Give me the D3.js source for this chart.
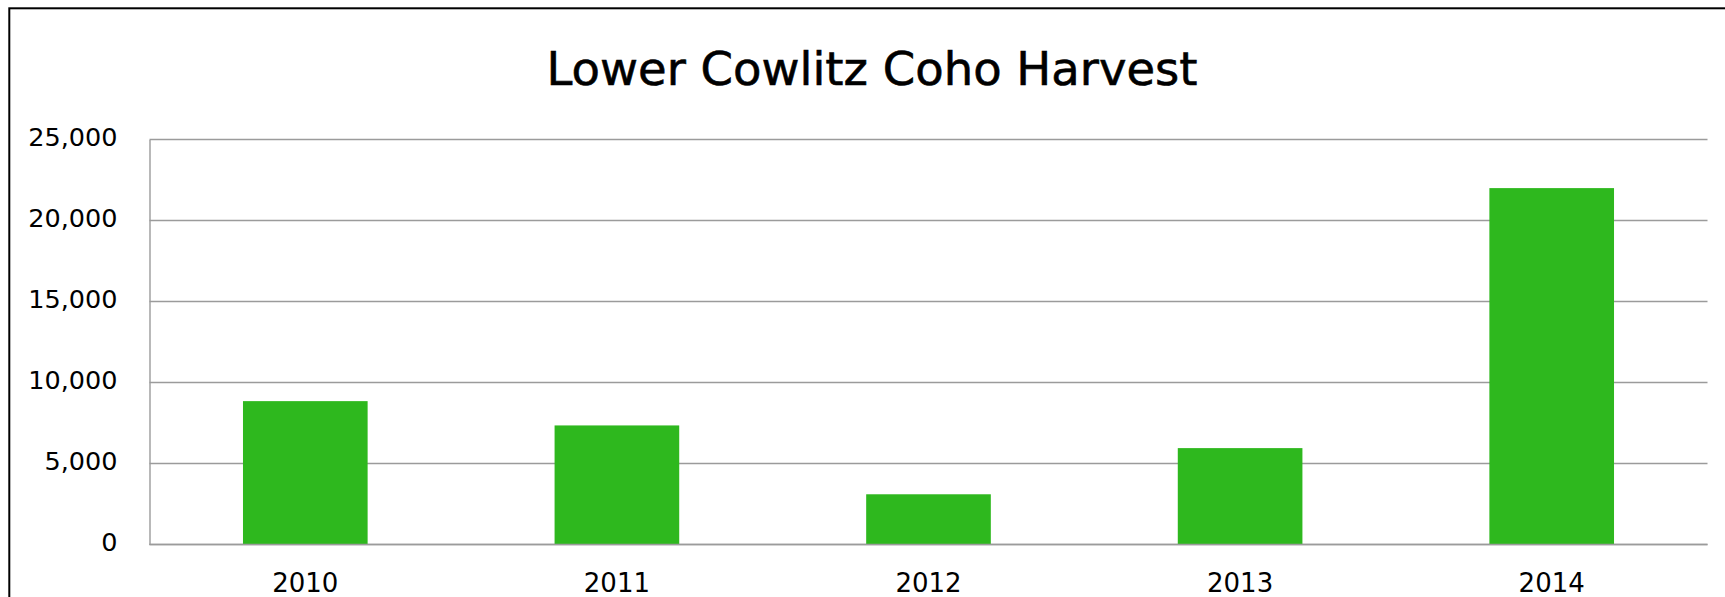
<!DOCTYPE html>
<html>
<head>
<meta charset="utf-8">
<script src="https://cdn.jsdelivr.net/npm/d3@7"></script>
<style>
  html, body { margin: 0; padding: 0; background: #fff; overflow: hidden; }
  svg { display: block; font-family: "DejaVu Sans", sans-serif; }
</style>
</head>
<body>
<svg id="chart" width="1725" height="597"></svg>
<script>
// Harvest counts by year
const years = ["2010", "2011", "2012", "2013", "2014"];
const harvest = [8850, 7350, 3100, 5950, 22000];
const yTicks = [0, 5000, 10000, 15000, 20000, 25000];
const title = "Lower Cowlitz Coho Harvest";

const svg = d3.select("#chart");
const margin = { left: 149.5, right: 17.5, top: 139.5, bottom: 52.5 };
const width = 1725, height = 597;

// outer frame (runs past the right and bottom edges)
svg.append("rect")
  .attr("x", 9.3).attr("y", 8.3)
  .attr("width", 1800).attr("height", 800)
  .attr("fill", "none").attr("stroke", "#000").attr("stroke-width", 2);

const x = d3.scaleBand()
  .domain(years)
  .range([margin.left, width - margin.right])
  .paddingInner(0.6)
  .paddingOuter(0.3);

const y = d3.scaleLinear()
  .domain([0, 25000])
  .range([height - margin.bottom, margin.top]);

// horizontal gridlines
svg.append("g")
  .selectAll("line")
  .data(yTicks)
  .join("line")
  .attr("x1", margin.left).attr("x2", width - margin.right)
  .attr("y1", d => y(d)).attr("y2", d => y(d))
  .attr("stroke", "#9b9b9b").attr("stroke-width", 1.4);

// left axis with tick labels
const yAxis = svg.append("g")
  .attr("transform", `translate(${margin.left},0)`)
  .call(d3.axisLeft(y).tickValues(yTicks).tickSize(0).tickPadding(32)
    .tickFormat(d3.format(",")));
yAxis.select(".domain").attr("stroke", "#9b9b9b").attr("stroke-width", 1.4);
yAxis.selectAll("text")
  .attr("font-family", "DejaVu Sans, sans-serif")
  .attr("font-size", 25.5)
  .attr("fill", "#000")
  .attr("dy", "0.22em");

// bars
svg.append("g")
  .selectAll("rect")
  .data(years.map((yr, i) => ({ yr, v: harvest[i] })))
  .join("rect")
  .attr("x", d => x(d.yr))
  .attr("width", x.bandwidth())
  .attr("y", d => y(d.v))
  .attr("height", d => y(0) - y(d.v))
  .attr("fill", "#2eb81e");

// baseline drawn over the bars
svg.append("line")
  .attr("x1", margin.left).attr("x2", width - margin.right)
  .attr("y1", y(0)).attr("y2", y(0))
  .attr("stroke", "#9b9b9b").attr("stroke-width", 1.4);

// bottom axis labels
const xAxis = svg.append("g")
  .attr("transform", `translate(0,${y(0)})`)
  .call(d3.axisBottom(x).tickSize(0).tickPadding(29));
xAxis.select(".domain").remove();
xAxis.selectAll("text")
  .attr("font-family", "DejaVu Sans, sans-serif")
  .attr("font-size", 26)
  .attr("fill", "#000");

// title
svg.append("text")
  .attr("x", 872).attr("y", 85)
  .attr("text-anchor", "middle")
  .attr("font-size", 46.5)
  .attr("fill", "#000")
  .attr("stroke", "#000")
  .attr("stroke-width", 0.6)
  .text(title);
</script>
</body>
</html>
